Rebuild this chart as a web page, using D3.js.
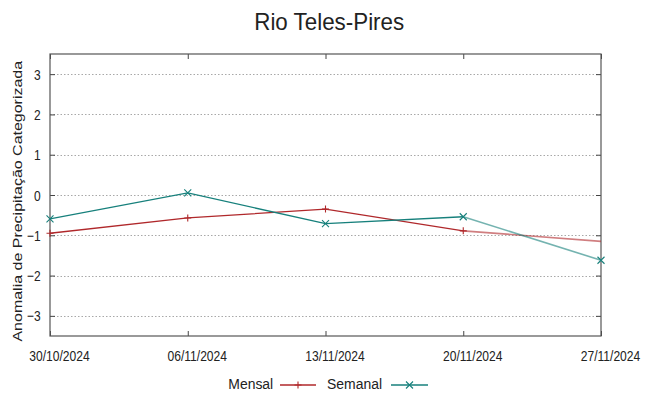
<!DOCTYPE html>
<html><head><meta charset="utf-8">
<script src="https://cdn.jsdelivr.net/npm/d3@7"></script>
<style>
body{margin:0;background:#fff;}
</style></head>
<body><svg id="c" width="649" height="396"></svg>
<script>
const dates = ["30/10/2024","06/11/2024","13/11/2024","20/11/2024","27/11/2024"];
const mensal = [-0.95,-0.57,-0.35,-0.89,-1.15];
const semanal = [-0.59,0.05,-0.71,-0.54,-1.62];
const yTicks = [-3,-2,-1,0,1,2,3];
const title = "Rio Teles-Pires";
const yLabel = "Anomalia de Precipitação Categorizada";
const seriesNames = ["Mensal","Semanal"];

const FONT = '"Liberation Sans", Arial, sans-serif';
const svg = d3.select("#c").style("font-family", FONT);
const L=50, R=601, T=54, B=336;
const x = d3.scalePoint().domain(dates).range([L,R]);
const y = d3.scaleLinear().domain([-3.5,3.5]).range([B,T]);
const red="#b0282b", teal="#17807c";

// grid
svg.append("g").selectAll("line").data(yTicks).join("line")
  .attr("x1",L).attr("x2",R).attr("y1",d=>Math.round(y(d))+0.5).attr("y2",d=>Math.round(y(d))+0.5)
  .attr("stroke","#a8a8a8").attr("stroke-width",1).attr("stroke-dasharray","1.5,2");

// axes with inward ticks
const axL = d3.axisLeft(y).tickValues(yTicks).tickSize(-5).tickFormat(d3.format("d"));
const axR = d3.axisRight(y).tickValues(yTicks).tickSize(-5).tickFormat("");
const axB = d3.axisBottom(x).tickSize(-5);
const axT = d3.axisTop(x).tickSize(-5).tickFormat("");
function style(g){g.select(".domain").remove();g.selectAll(".tick line").attr("stroke","#444");}
svg.append("g").attr("transform",`translate(${L},0)`).call(axL).call(style)
  .call(g=>g.attr("font-family",FONT).attr("font-size",15))
  .selectAll("text").attr("fill","#222").attr("x",0).attr("dy",null).attr("y",5)
  .attr("transform","translate(-9.3,0) scale(0.8,1)");
svg.append("g").attr("transform",`translate(${R},0)`).call(axR).call(style);
svg.append("g").attr("transform",`translate(0,${B})`).call(axB).call(style)
  .call(g=>g.attr("font-family",FONT).attr("font-size",14.4))
  .selectAll("text").attr("fill","#222").attr("dy",null).attr("y",25)
  .attr("transform","translate(9,0) scale(0.84,1)");
svg.append("g").attr("transform",`translate(0,${T})`).call(axT).call(style);

// frame
svg.append("rect").attr("x",L).attr("y",T).attr("width",R-L).attr("height",B-T)
  .attr("fill","none").attr("stroke","#555").attr("stroke-width",1.2);

const line = d3.line().x((d,i)=>x(dates[i])).y(d=>y(d));
function drawSeries(vals,color){
  const n=vals.length;
  svg.append("path").datum(vals.slice(0,n-1)).attr("d",line).attr("fill","none")
    .attr("stroke",color).attr("stroke-width",1.3);
  const seg = d3.line().x(d=>x(dates[d])).y(d=>y(vals[d]));
  svg.append("path").datum([n-2,n-1]).attr("d",seg).attr("fill","none")
    .attr("stroke",color).attr("stroke-width",1.6).attr("stroke-opacity",0.6);
}
drawSeries(mensal,red);
drawSeries(semanal,teal);

const s=3.5;
function plus(g,cx,cy,c){g.append("path").attr("d",`M${cx-s},${cy}H${cx+s}M${cx},${cy-s}V${cy+s}`).attr("stroke",c).attr("stroke-width",1.1).attr("fill","none");}
function cross(g,cx,cy,c){g.append("path").attr("d",`M${cx-s},${cy-s}L${cx+s},${cy+s}M${cx-s},${cy+s}L${cx+s},${cy-s}`).attr("stroke",c).attr("stroke-width",1.1).attr("fill","none");}
const mg=svg.append("g");
mensal.forEach((v,i)=>{ if(i<mensal.length-1) plus(mg,x(dates[i]),y(v),red); });
semanal.forEach((v,i)=>cross(mg,x(dates[i]),y(v),teal));

function stext(px,py,sx,rot,size,anchor,str){
  svg.append("text").attr("transform",`translate(${px},${py}) scale(${sx},1)${rot?` rotate(${rot})`:""}`)
    .attr("text-anchor",anchor).attr("font-size",size).attr("fill","#222").text(str);
}
// title
stext(329.2,30,0.906,0,24.7,"middle",title);
// y label
stext(21.5,201.2,0.85,-90,16,"middle",yLabel);
// legend
stext(228.3,388.5,0.93,0,15,"start",seriesNames[0]);
const lg=svg.append("g");
lg.append("line").attr("x1",280).attr("x2",316).attr("y1",385).attr("y2",385).attr("stroke",red).attr("stroke-width",1.3);
plus(lg,298,385,red);
stext(327,388.5,0.93,0,15,"start",seriesNames[1]);
lg.append("line").attr("x1",391).attr("x2",428).attr("y1",385).attr("y2",385).attr("stroke",teal).attr("stroke-width",1.3);
cross(lg,409.5,385,teal);
</script></body></html>
